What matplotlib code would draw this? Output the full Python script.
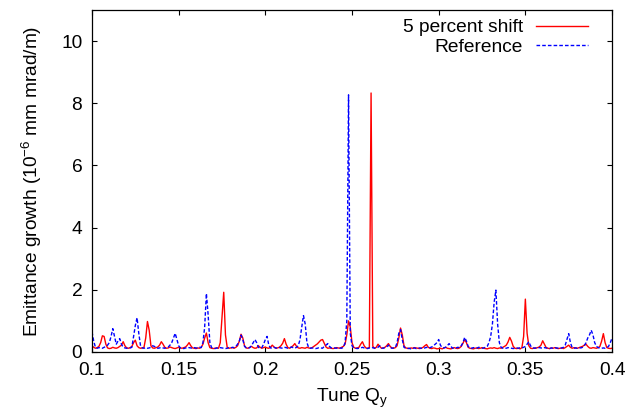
import numpy as np
import matplotlib
matplotlib.use("Agg")
import matplotlib.pyplot as plt

plt.rcParams['font.family'] = ['Liberation Sans', 'DejaVu Sans']
plt.rcParams['mathtext.fontset'] = 'custom'
plt.rcParams['mathtext.rm'] = 'Liberation Sans'
plt.rcParams['mathtext.it'] = 'Liberation Sans:italic'

# Tune grid: 0.100 ... 0.400 in steps of 0.001
tune_start = 0.100
tune_step = 0.001

shift5 = [
    0.20, 0.15, 0.12, 0.14, 0.18, 0.30, 0.52, 0.50, 0.25, 0.13,
    0.11, 0.12, 0.15, 0.13, 0.12, 0.14, 0.18, 0.22, 0.33, 0.20,
    0.13, 0.12, 0.14, 0.18, 0.30, 0.38, 0.20, 0.14, 0.12, 0.13,
    0.15, 0.45, 0.98, 0.70, 0.20, 0.13, 0.12, 0.14, 0.16, 0.22,
    0.33, 0.25, 0.15, 0.12, 0.13, 0.16, 0.14, 0.12, 0.11, 0.13,
    0.15, 0.13, 0.12, 0.14, 0.16, 0.22, 0.30, 0.20, 0.13, 0.12,
    0.11, 0.13, 0.12, 0.15, 0.25, 0.45, 0.61, 0.30, 0.14, 0.12,
    0.11, 0.12, 0.13, 0.12, 0.30, 1.10, 1.92, 0.55, 0.15, 0.12,
    0.13, 0.14, 0.12, 0.15, 0.20, 0.35, 0.57, 0.45, 0.20, 0.13,
    0.12, 0.15, 0.18, 0.14, 0.12, 0.13, 0.20, 0.15, 0.12, 0.14,
    0.16, 0.13, 0.12, 0.15, 0.22, 0.16, 0.12, 0.13, 0.15, 0.20,
    0.28, 0.43, 0.25, 0.14, 0.12, 0.16, 0.20, 0.27, 0.18, 0.13,
    0.12, 0.14, 0.13, 0.12, 0.15, 0.13, 0.12, 0.14, 0.18, 0.22,
    0.26, 0.32, 0.38, 0.40, 0.28, 0.16, 0.12, 0.13, 0.12, 0.11,
    0.12, 0.14, 0.13, 0.12, 0.15, 0.18, 0.25, 0.55, 1.00, 0.80,
    0.30, 0.15, 0.12, 0.13, 0.15, 0.25, 0.33, 0.20, 0.13, 0.12,
    0.14, 8.33, 0.18, 0.12, 0.15, 0.25, 0.18, 0.12, 0.13, 0.15,
    0.20, 0.27, 0.18, 0.13, 0.12, 0.14, 0.20, 0.45, 0.77, 0.55,
    0.20, 0.13, 0.12, 0.11, 0.13, 0.12, 0.14, 0.13, 0.12, 0.11,
    0.12, 0.15, 0.20, 0.24, 0.15, 0.12, 0.11, 0.13, 0.12, 0.10,
    0.11, 0.12, 0.10, 0.13, 0.15, 0.12, 0.11, 0.10, 0.12, 0.14,
    0.12, 0.11, 0.13, 0.18, 0.28, 0.40, 0.30, 0.15, 0.12, 0.11,
    0.10, 0.12, 0.13, 0.11, 0.12, 0.14, 0.12, 0.11, 0.10, 0.12,
    0.13, 0.12, 0.14, 0.12, 0.11, 0.13, 0.12, 0.15, 0.18, 0.22,
    0.32, 0.47, 0.35, 0.18, 0.12, 0.11, 0.12, 0.10, 0.14, 0.50,
    1.70, 0.60, 0.20, 0.12, 0.11, 0.13, 0.12, 0.14, 0.16, 0.22,
    0.36, 0.25, 0.14, 0.12, 0.11, 0.13, 0.12, 0.14, 0.12, 0.11,
    0.12, 0.13, 0.11, 0.14, 0.18, 0.22, 0.15, 0.12, 0.14, 0.13,
    0.12, 0.14, 0.16, 0.18, 0.22, 0.25, 0.18, 0.13, 0.12, 0.14,
    0.13, 0.12, 0.14, 0.18, 0.35, 0.59, 0.30, 0.14, 0.12, 0.11,
    0.12,
]

reference = [
    0.65, 0.35, 0.15, 0.12, 0.14, 0.13, 0.12, 0.15, 0.18, 0.22,
    0.30, 0.50, 0.75, 0.50, 0.25, 0.35, 0.43, 0.25, 0.15, 0.13,
    0.12, 0.14, 0.13, 0.15, 0.50, 0.85, 1.10, 0.60, 0.20, 0.13,
    0.12, 0.14, 0.12, 0.13, 0.15, 0.20, 0.18, 0.14, 0.12, 0.13,
    0.15, 0.13, 0.12, 0.14, 0.16, 0.22, 0.30, 0.45, 0.60, 0.40,
    0.20, 0.13, 0.12, 0.11, 0.13, 0.12, 0.14, 0.13, 0.12, 0.14,
    0.13, 0.12, 0.15, 0.14, 0.30, 0.80, 1.88, 1.20, 0.30, 0.14,
    0.12, 0.11, 0.13, 0.12, 0.14, 0.13, 0.12, 0.11, 0.12, 0.14,
    0.13, 0.15, 0.14, 0.18, 0.25, 0.35, 0.54, 0.40, 0.18, 0.13,
    0.12, 0.14, 0.20, 0.30, 0.40, 0.30, 0.15, 0.12, 0.14, 0.25,
    0.40, 0.50, 0.22, 0.13, 0.12, 0.15, 0.13, 0.12, 0.14, 0.13,
    0.12, 0.15, 0.14, 0.12, 0.13, 0.16, 0.14, 0.12, 0.15, 0.20,
    0.40, 0.80, 1.17, 0.90, 0.30, 0.14, 0.12, 0.13, 0.12, 0.11,
    0.12, 0.14, 0.13, 0.12, 0.18, 0.22, 0.27, 0.18, 0.13, 0.12,
    0.13, 0.12, 0.14, 0.13, 0.12, 0.15, 0.30, 1.00, 8.27, 0.60,
    0.20, 0.13, 0.12, 0.11, 0.12, 0.13, 0.15, 0.13, 0.12, 0.11,
    0.13, 0.12, 0.14, 0.12, 0.13, 0.15, 0.20, 0.13, 0.12, 0.14,
    0.16, 0.22, 0.15, 0.12, 0.13, 0.14, 0.30, 0.60, 0.72, 0.40,
    0.15, 0.12, 0.11, 0.12, 0.10, 0.12, 0.13, 0.11, 0.12, 0.13,
    0.12, 0.11, 0.13, 0.15, 0.12, 0.14, 0.16, 0.20, 0.25, 0.30,
    0.40, 0.22, 0.14, 0.13, 0.15, 0.20, 0.27, 0.18, 0.12, 0.14,
    0.13, 0.15, 0.14, 0.20, 0.30, 0.47, 0.35, 0.18, 0.13, 0.12,
    0.14, 0.13, 0.12, 0.15, 0.14, 0.12, 0.13, 0.15, 0.18, 0.30,
    0.50, 0.90, 1.60, 1.99, 0.90, 0.30, 0.15, 0.12, 0.13, 0.12,
    0.14, 0.13, 0.12, 0.11, 0.12, 0.13, 0.12, 0.14, 0.13, 0.15,
    0.18, 0.25, 0.33, 0.20, 0.14, 0.12, 0.13, 0.12, 0.14, 0.13,
    0.12, 0.14, 0.13, 0.12, 0.11, 0.13, 0.12, 0.14, 0.13, 0.12,
    0.11, 0.13, 0.15, 0.22, 0.40, 0.59, 0.30, 0.14, 0.12, 0.13,
    0.12, 0.14, 0.13, 0.15, 0.20, 0.30, 0.45, 0.55, 0.70, 0.55,
    0.30, 0.18, 0.14, 0.13, 0.12, 0.13, 0.12, 0.14, 0.18, 0.30,
    0.45,
]

x_ticks = [0.1, 0.15, 0.2, 0.25, 0.3, 0.35, 0.4]
x_tick_labels = ["0.1", "0.15", "0.2", "0.25", "0.3", "0.35", "0.4"]
y_ticks = [0, 2, 4, 6, 8, 10]

tune = tune_start + tune_step * np.arange(len(shift5))

fig = plt.figure(figsize=(6.37, 4.11), dpi=100)
ax = fig.add_axes([0.1444, 0.1436, 0.8164, 0.8321])

ax.plot(tune, shift5, color='#ff0000', lw=1.0, label='5 percent shift')
ax.plot(tune, reference, color='#0000ff', lw=1.0, ls=(0, (2.6, 1.5)), label='Reference')

ax.set_xlim(0.1, 0.4)
ax.set_ylim(0, 11)
ax.set_xticks(x_ticks)
ax.set_xticklabels(x_tick_labels)
ax.set_yticks(y_ticks)

fs = 13.8
ax.tick_params(direction='in', top=True, right=True, length=3.8, width=0.8,
               labelsize=fs, colors='black')
ax.tick_params(axis='x', pad=7)
ax.tick_params(axis='y', pad=7)
for s in ax.spines.values():
    s.set_linewidth(0.9)

ax.set_xlabel(r'Tune Q$_\mathregular{y}$', fontsize=fs, labelpad=6)
ax.set_ylabel(r'Emittance growth (10$^\mathregular{-6}$ mm mrad/m)', fontsize=fs, labelpad=12)

leg = ax.legend(loc='upper right', bbox_to_anchor=(0.98, 1.013), frameon=False,
                markerfirst=False, fontsize=fs, handlelength=2.7,
                handletextpad=0.7, labelspacing=0.12, borderaxespad=0.3)

fig.savefig('out.png', dpi=100)
